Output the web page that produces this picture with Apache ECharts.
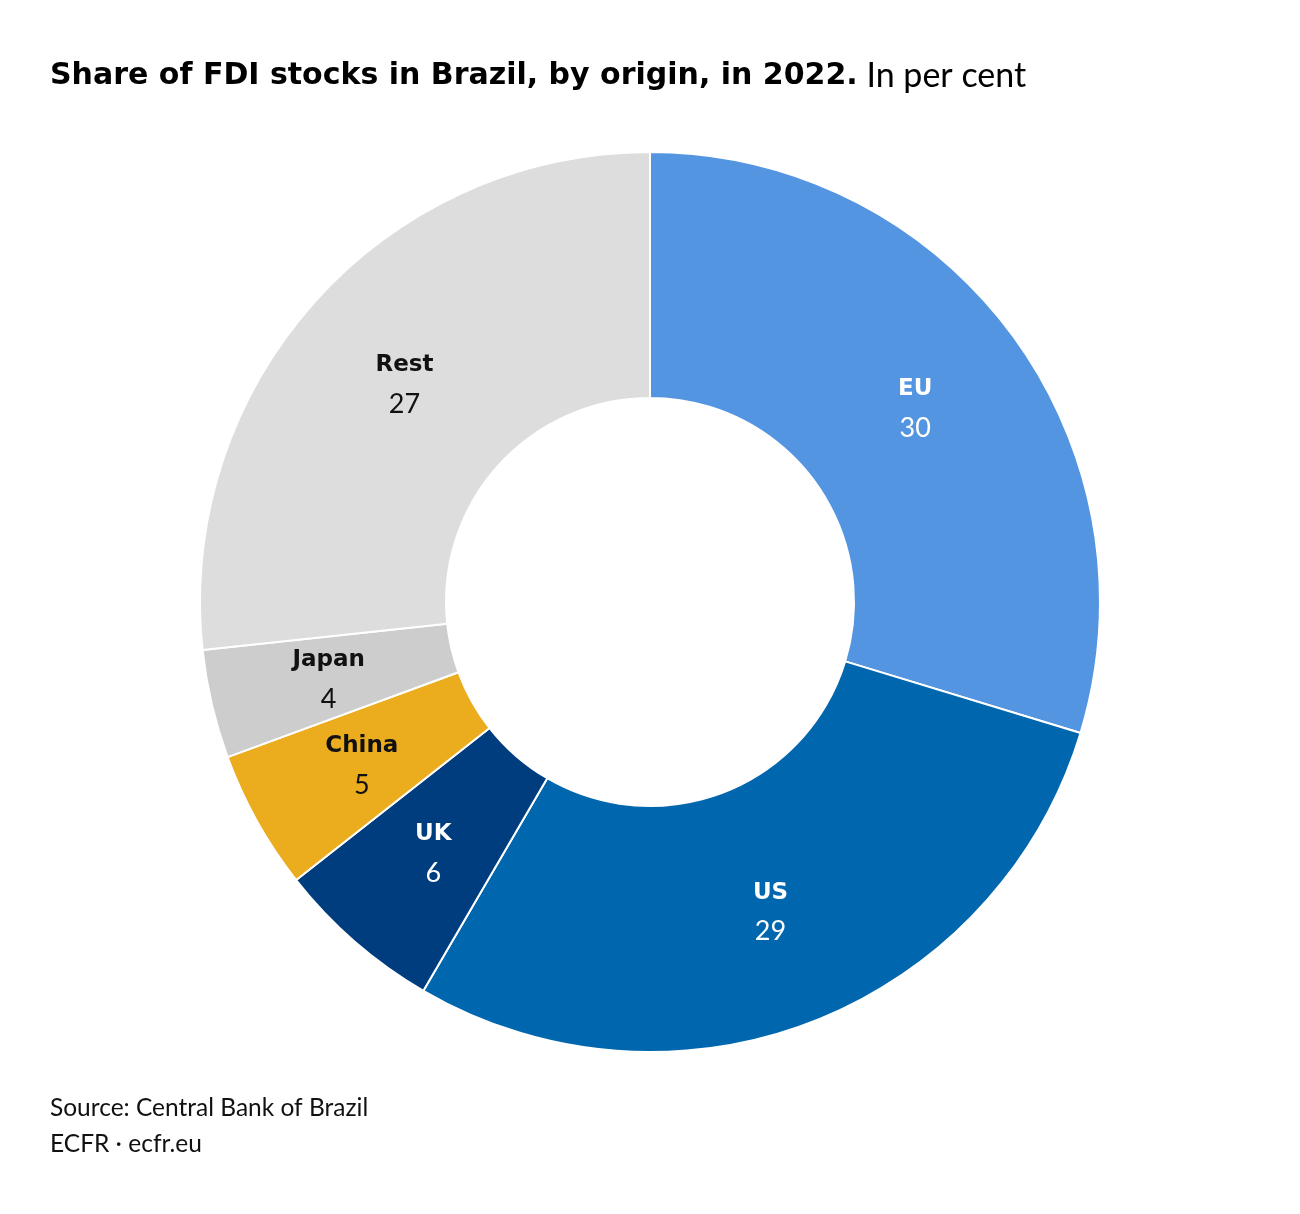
<!DOCTYPE html>
<html><head><meta charset="utf-8">
<script src="https://cdn.jsdelivr.net/npm/echarts@6/dist/echarts.min.js"></script>
<style>html,body{margin:0;padding:0;background:#fff}#c{width:1300px;height:1214px}</style>
</head><body><div id="c"></div>
<script>
const categories = ['EU', 'US', 'UK', 'China', 'Japan', 'Rest'];
const values = [29.7, 28.7, 6.0, 5.0, 3.9, 26.7];
const valueLabels = ['30', '29', '6', '5', '4', '27'];
const colors = ['#5495E1', '#0066AE', '#003D7E', '#EBAC1E', '#CDCDCD', '#DDDDDD'];
const labelColors = ['#fff', '#fff', '#fff', '#111', '#111', '#111'];

const FONT = 'Lato, "Noto Sans", sans-serif';
const BOLD = '"DejaVu Sans", Lato, sans-serif';
const chart = echarts.init(document.getElementById('c'));
chart.setOption({
  backgroundColor: '#fff',
  animation: false,
  graphic: [
    { type: 'text', left: 50, top: 59, style: {
      text: '{b|Share of FDI stocks in Brazil, by origin, in 2022.}{n| In per cent}',
      rich: {
        b: { fontFamily: BOLD, fontWeight: 'bold', fontSize: 30, fill: '#000' },
        n: { fontFamily: FONT, fontWeight: 400, fontSize: 34, fill: '#000' }
      } } },
    { type: 'text', left: 50, top: 1096, style: { text: 'Source: Central Bank of Brazil', fontFamily: FONT, fontSize: 24.5, fill: '#111' } },
    { type: 'text', left: 50, top: 1132, style: { text: 'ECFR · ecfr.eu', fontFamily: FONT, fontSize: 24.5, fill: '#111' } }
  ],
  series: [{
    type: 'pie',
    center: [650, 602],
    radius: [204, 450],
    startAngle: 90,
    clockwise: true,
    avoidLabelOverlap: false,
    itemStyle: { borderColor: '#fff', borderWidth: 2 },
    label: { show: true, position: 'inside' },
    labelLine: { show: false },
    emphasis: { disabled: true },
    data: categories.map((c, i) => ({
      name: c, value: values[i],
      itemStyle: { color: colors[i] },
      label: {
        formatter: '{n|' + c + '}\n{v|' + valueLabels[i] + '}',
        offset: [0, 3],
        rich: {
          n: { fontFamily: BOLD, fontWeight: 'bold', fontSize: 23, color: labelColors[i], lineHeight: 39, align: 'center' },
          v: { fontFamily: FONT, fontWeight: 400, fontSize: 27, color: labelColors[i], lineHeight: 39, align: 'center' }
        }
      }
    }))
  }]
});
</script></body></html>
